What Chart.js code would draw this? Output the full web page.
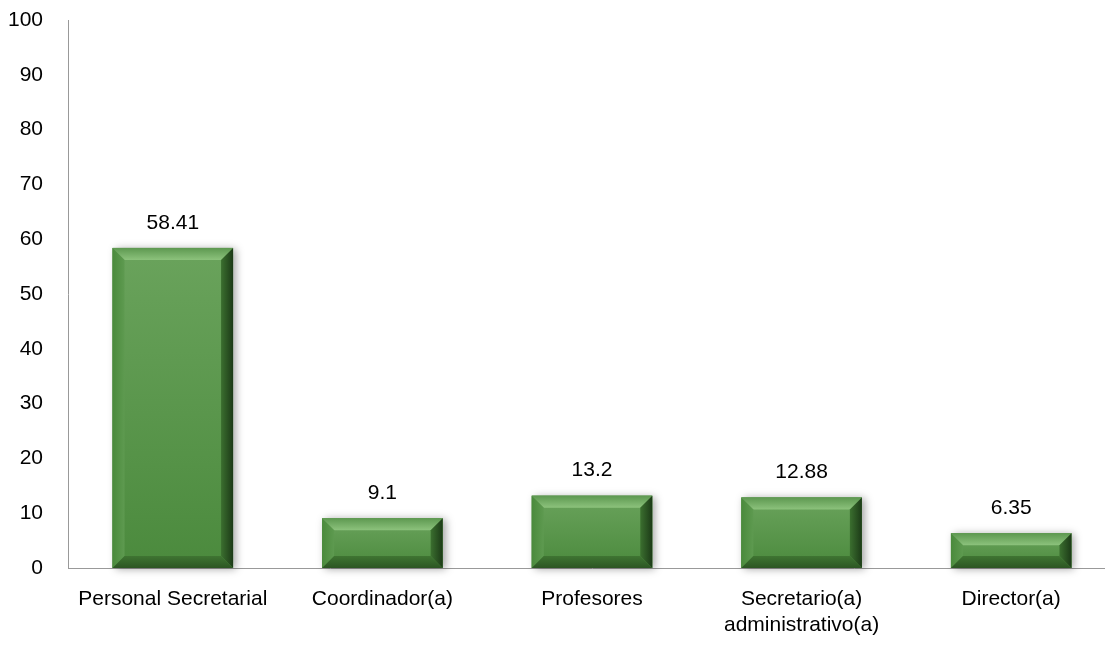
<!DOCTYPE html>
<html>
<head>
<meta charset="utf-8">
<script src="https://cdn.jsdelivr.net/npm/chart.js@4/dist/chart.umd.min.js"></script>
<style>
  html, body { margin: 0; padding: 0; background: #fff; overflow: hidden; }
  #wrap { width: 1116px; height: 645px; }
</style>
</head>
<body>
<div id="wrap"><canvas id="chart"></canvas></div>
<script>
const categories = [
  "Personal Secretarial",
  "Coordinador(a)",
  "Profesores",
  ["Secretario(a)", "administrativo(a)"],
  "Director(a)"
];
const values = [58.41, 9.1, 13.2, 12.88, 6.35];
const valueLabels = ["58.41", "9.1", "13.2", "12.88", "6.35"];
const yTicks = [0, 10, 20, 30, 40, 50, 60, 70, 80, 90, 100];

const FONT = "'Liberation Sans', Arial, sans-serif";
Chart.defaults.font.family = FONT;
Chart.defaults.color = "#000";

// bevelled bars with a soft shadow, drawn over the library's bar elements
const bevelBars = {
  id: "bevelBars",
  beforeDatasetsDraw(chart) {
    const ctx = chart.ctx;
    chart.getDatasetMeta(0).data.forEach((bar) => {
      const l = bar.x - bar.width / 2, r = bar.x + bar.width / 2;
      const t = bar.y, b = bar.base;
      ctx.save();
      ctx.shadowColor = "rgba(0,0,0,0.35)";
      ctx.shadowBlur = 8;
      ctx.shadowOffsetX = 3;
      ctx.shadowOffsetY = 1;
      ctx.fillStyle = "#3f7a32";
      ctx.fillRect(l, t, r - l, b - t);
      ctx.restore();
    });
  },
  afterDatasetsDraw(chart) {
    const ctx = chart.ctx;
    chart.getDatasetMeta(0).data.forEach((bar, i) => {
      const l = bar.x - bar.width / 2, r = bar.x + bar.width / 2;
      const t = bar.y, b = bar.base;
      const h = b - t;
      const bw = Math.min(12, h / 2.5);
      ctx.save();
      // face
      const g = ctx.createLinearGradient(0, t, 0, b);
      g.addColorStop(0, "#6aa35c");
      g.addColorStop(1, "#4b8a3d");
      ctx.fillStyle = g;
      ctx.fillRect(l, t, r - l, h);
      // top bevel
      const gt = ctx.createLinearGradient(0, t, 0, t + bw);
      gt.addColorStop(0, "#5d9850");
      gt.addColorStop(1, "#8cc27c");
      ctx.fillStyle = gt;
      ctx.beginPath();
      ctx.moveTo(l, t); ctx.lineTo(r, t); ctx.lineTo(r - bw, t + bw); ctx.lineTo(l + bw, t + bw);
      ctx.closePath(); ctx.fill();
      // left bevel
      const gl = ctx.createLinearGradient(l, 0, l + bw, 0);
      gl.addColorStop(0, "#4a8a3c");
      gl.addColorStop(1, "#5e9a50");
      ctx.fillStyle = gl;
      ctx.beginPath();
      ctx.moveTo(l, t); ctx.lineTo(l + bw, t + bw); ctx.lineTo(l + bw, b - bw); ctx.lineTo(l, b);
      ctx.closePath(); ctx.fill();
      // right bevel
      const gr = ctx.createLinearGradient(r - bw, 0, r, 0);
      gr.addColorStop(0, "#3b6f2f");
      gr.addColorStop(1, "#1c3a17");
      ctx.fillStyle = gr;
      ctx.beginPath();
      ctx.moveTo(r, t); ctx.lineTo(r, b); ctx.lineTo(r - bw, b - bw); ctx.lineTo(r - bw, t + bw);
      ctx.closePath(); ctx.fill();
      // bottom bevel
      const gb = ctx.createLinearGradient(0, b - bw, 0, b);
      gb.addColorStop(0, "#3f7532");
      gb.addColorStop(1, "#2c5623");
      ctx.fillStyle = gb;
      ctx.beginPath();
      ctx.moveTo(l, b); ctx.lineTo(r, b); ctx.lineTo(r - bw, b - bw); ctx.lineTo(l + bw, b - bw);
      ctx.closePath(); ctx.fill();
      // value label
      ctx.fillStyle = "#000";
      ctx.font = "21px " + FONT;
      ctx.textAlign = "center";
      ctx.textBaseline = "middle";
      ctx.fillText(valueLabels[i], bar.x, t - 25);
      ctx.restore();
    });
  }
};

new Chart(document.getElementById("chart"), {
  type: "bar",
  data: {
    labels: categories,
    datasets: [{
      data: values,
      backgroundColor: "rgba(0,0,0,0)",
      borderWidth: 0,
      barPercentage: 0.575,
      categoryPercentage: 1.0
    }]
  },
  options: {
    responsive: true,
    maintainAspectRatio: false,
    animation: false,
    layout: { padding: { top: 20, right: 0, bottom: 0, left: 0 } },
    plugins: {
      legend: { display: false },
      tooltip: { enabled: false }
    },
    scales: {
      y: {
        min: 0,
        max: 100,
        afterBuildTicks: (s) => { s.ticks = yTicks.map((v) => ({ value: v })); },
        afterFit: (s) => { s.width = 68; s.paddingTop = 0; s.paddingBottom = 0; },
        grid: { display: false, drawTicks: false },
        border: { display: true, color: "#999", width: 1 },
        ticks: { font: { size: 21, lineHeight: 1 }, padding: 25, color: "#000" }
      },
      x: {
        afterFit: (s) => { s.height = 77; },
        grid: { display: false, drawTicks: false },
        border: { display: true, color: "#999", width: 1 },
        ticks: { font: { size: 21, lineHeight: 1.2 }, padding: 19, color: "#000", maxRotation: 0, autoSkip: false }
      }
    }
  },
  plugins: [bevelBars]
});
</script>
</body>
</html>
